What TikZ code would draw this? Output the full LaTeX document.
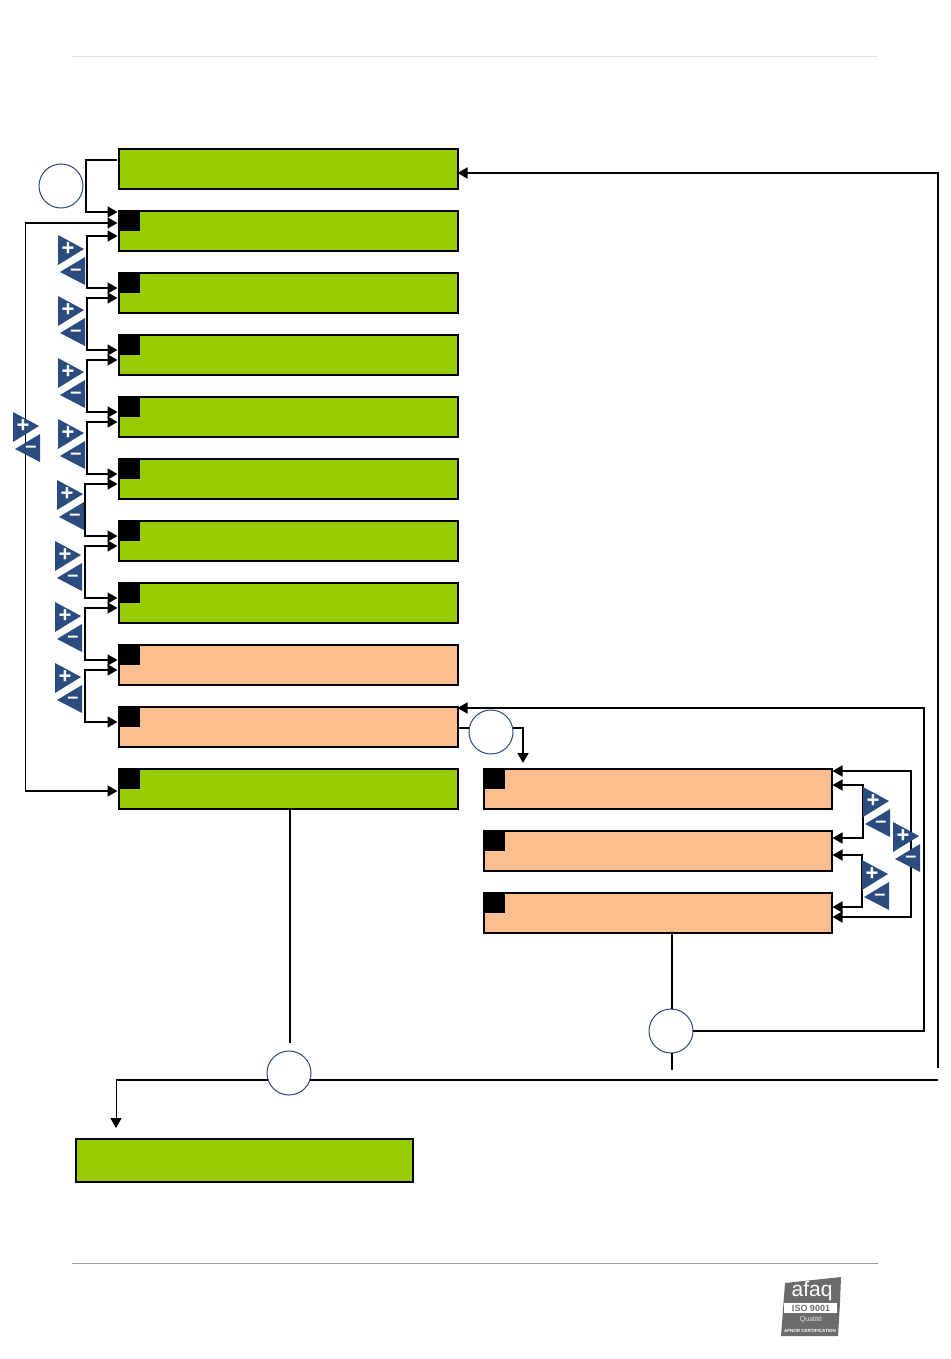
\documentclass[tikz,border=0pt]{standalone}
\usepackage{fontspec}
\setmainfont{Liberation Sans}
\usetikzlibrary{arrows.meta,calc}
\definecolor{gr}{HTML}{99CC00}
\definecolor{og}{HTML}{FBBF8F}
\definecolor{nv}{HTML}{2B4C7E}
\definecolor{rule1}{HTML}{E4E4E4}
\definecolor{rule2}{HTML}{9A9A9A}
\definecolor{logo}{HTML}{6B6B6B}
\tikzset{
 panel/.style={draw=black,line width=2pt,inner sep=0,outer sep=0,anchor=north west,minimum width=339pt,minimum height=40pt},
 rpanel/.style={panel,minimum width=348pt},
 mark box/.style={fill=black,inner sep=0,outer sep=0,anchor=north west,minimum width=21pt,minimum height=20pt},
 ring/.style={circle,draw=nv,line width=1pt,fill=white,inner sep=0,outer sep=0,minimum size=44pt},
 link/.style={draw=black,line width=1.7pt},
 ah/.style={-{Triangle[length=10pt,width=11pt]}},
 bh/.style={{Triangle[length=10pt,width=11pt]}-{Triangle[length=10pt,width=11pt]}},
 sign/.style={text=white,inner sep=0,outer sep=0},
 pics/pm/.style={code={
  \fill[nv] (0,0) -- (26,14) -- (0,30) -- cycle;
  \fill[nv] (27,22) -- (27,50) -- (2,37) -- cycle;
  \node[sign,font=\bfseries\fontsize{22}{22}\selectfont] at (10,14.5) {+};
  \node[sign,font=\bfseries\fontsize{20}{20}\selectfont] at (18,37) {–};
 }}
}
\begin{document}
\begin{tikzpicture}[x=1pt,y=-1pt]
\useasboundingbox (0,0) rectangle (950,1359);
\draw[rule1,line width=1pt] (72,57) -- (878,57);
\draw[rule2,line width=1pt] (72,1263) -- (878,1263);
% left column
\node[panel,fill=gr] (b0) at (118.5,149) {};
\foreach \n/\y/\c in {1/211/gr,2/273/gr,3/335/gr,4/397/gr,5/459/gr,6/521/gr,7/583/gr,8/645/og,9/707/og,10/769/gr}{
  \node[panel,fill=\c] (b\n) at (118.5,\y) {};
  \node[mark box] (m\n) at (b\n.north west) {};
}
% right column
\foreach \n/\y in {1/769,2/831,3/893}{
  \node[rpanel,fill=og] (r\n) at (483.5,\y) {};
  \node[mark box] (q\n) at (r\n.north west) {};
}
\node[panel,fill=gr,minimum width=337pt,minimum height=43pt] (end) at (75.5,1139) {};
% circles
\node[ring] (c1) at (61,186) {};
\node[ring] (c2) at (289,1073) {};
\node[ring] (c3) at (491,732) {};
\node[ring] (c4) at (671,1031) {};
% chain connectors
\coordinate (t0) at ([yshift=-11pt,xshift=-2pt]b0.north west);
\coordinate (t1) at ([xshift=-1pt,yshift=-1pt]b1.north west);
\coordinate (k0) at (86,0);
\draw[link,ah] (t0) -- (t0 -| k0) -- (t1 -| k0) -- (t1);
\coordinate (lp1) at ([xshift=-1pt,yshift=-12pt]b1.north west);
\coordinate (lp2) at ([xshift=-1pt,yshift=-22pt]b10.north west);
\coordinate (k1) at (25.5,0);
\draw[link,bh] (lp1) -- (lp1 -| k1) -- (lp2 -| k1) -- (lp2);
\foreach \a/\b/\x in {1/2/87,2/3/87,3/4/87,4/5/87,5/6/85,6/7/85,7/8/85,8/9/85}{
  \coordinate (s) at ([xshift=-1pt,yshift=-25pt]b\a.north west);
  \coordinate (e) at ([xshift=-1pt,yshift=-15pt]b\b.north west);
  \coordinate (k) at (\x,0);
  \draw[link,bh] (s) -- (s -| k) -- (e -| k) -- (e);
}
% right side connectors
\coordinate (upTop) at (938,173);
\coordinate (upEnd) at (938,1068);
\draw[link,ah] (upEnd) -- (upTop) -- (b0.east |- upTop);
\coordinate (backTop) at (924,708);
\coordinate (backBot) at (924,1031);
\draw[link,ah] (c4.east) -- (backBot) -- (backTop) -- (b9.east |- backTop);
\coordinate (c3l) at ([yshift=-21pt]b9.north east);
\draw[link] (c3l) -- (c3.170 |- c3l);
\coordinate (c3r) at (523,728);
\draw[link,ah] (c3.10 |- c3r) -- (c3r) -- (523,763);
\coordinate (ra) at (911,0);
\coordinate (rb) at (863,0);
\coordinate (rc) at (862,0);
\coordinate (p1) at ([xshift=1pt,yshift=-2pt]r1.north east);
\coordinate (p2) at ([xshift=1pt,yshift=-24pt]r3.north east);
\draw[link,bh] (p1) -- (p1 -| ra) -- (p2 -| ra) -- (p2);
\coordinate (p3) at ([xshift=1pt,yshift=-16pt]r1.north east);
\coordinate (p4) at ([xshift=1pt,yshift=-7pt]r2.north east);
\draw[link,bh] (p3) -- (p3 -| rb) -- (p4 -| rb) -- (p4);
\coordinate (p5) at ([xshift=1pt,yshift=-24pt]r2.north east);
\coordinate (p6) at ([xshift=1pt,yshift=-14pt]r3.north east);
\draw[link,bh] (p5) -- (p5 -| rc) -- (p6 -| rc) -- (p6);
% vertical drops
\coordinate (d10) at (290,1043);
\draw[link] (b10.south -| d10) -- (d10);
\coordinate (d3a) at (672,932);
\draw[link] (d3a) -- (c4.north -| d3a);
\coordinate (d3b) at (672,1070);
\draw[link] (c4.south -| d3b) -- (d3b);
\coordinate (hr) at (938,1080);
\coordinate (hl) at (116,1080);
\draw[link] (c2.-18 |- hr) -- (hr);
\draw[link] (c2.198 |- hl) -- (hl);
\coordinate (hd) at (116,1128);
\draw[draw=black,line width=1pt,ah] (hl) -- (hd);
% sign icons
\foreach \x/\y in {58/235,58/296,58/358,58/419,57/480,55/541,55/602,55/663,13/412,863/787,862/860,893/822}{
  \pic at (\x,\y) {pm};
}
% logo
\fill[logo] (785,1283) -- (841,1277) -- (840,1303) -- (838,1336) -- (781,1336) -- cycle;
\fill[white] (784,1303) rectangle (837,1313);
\node[text=white,inner sep=0,font=\fontsize{21}{21}\selectfont] (l1) at (812,1291) {afaq};
\node[text=logo,inner sep=0,font=\bfseries\fontsize{9}{9}\selectfont] (l2) at (811,1308) {ISO 9001};
\node[text=white!80!logo,inner sep=0,font=\fontsize{7}{7}\selectfont] (l3) at (811,1320) {Qualité};
\node[text=white,inner sep=0,font=\bfseries\fontsize{4.5}{4.5}\selectfont] (l4) at (810,1331) {AFNOR CERTIFICATION};
\end{tikzpicture}
\end{document}
